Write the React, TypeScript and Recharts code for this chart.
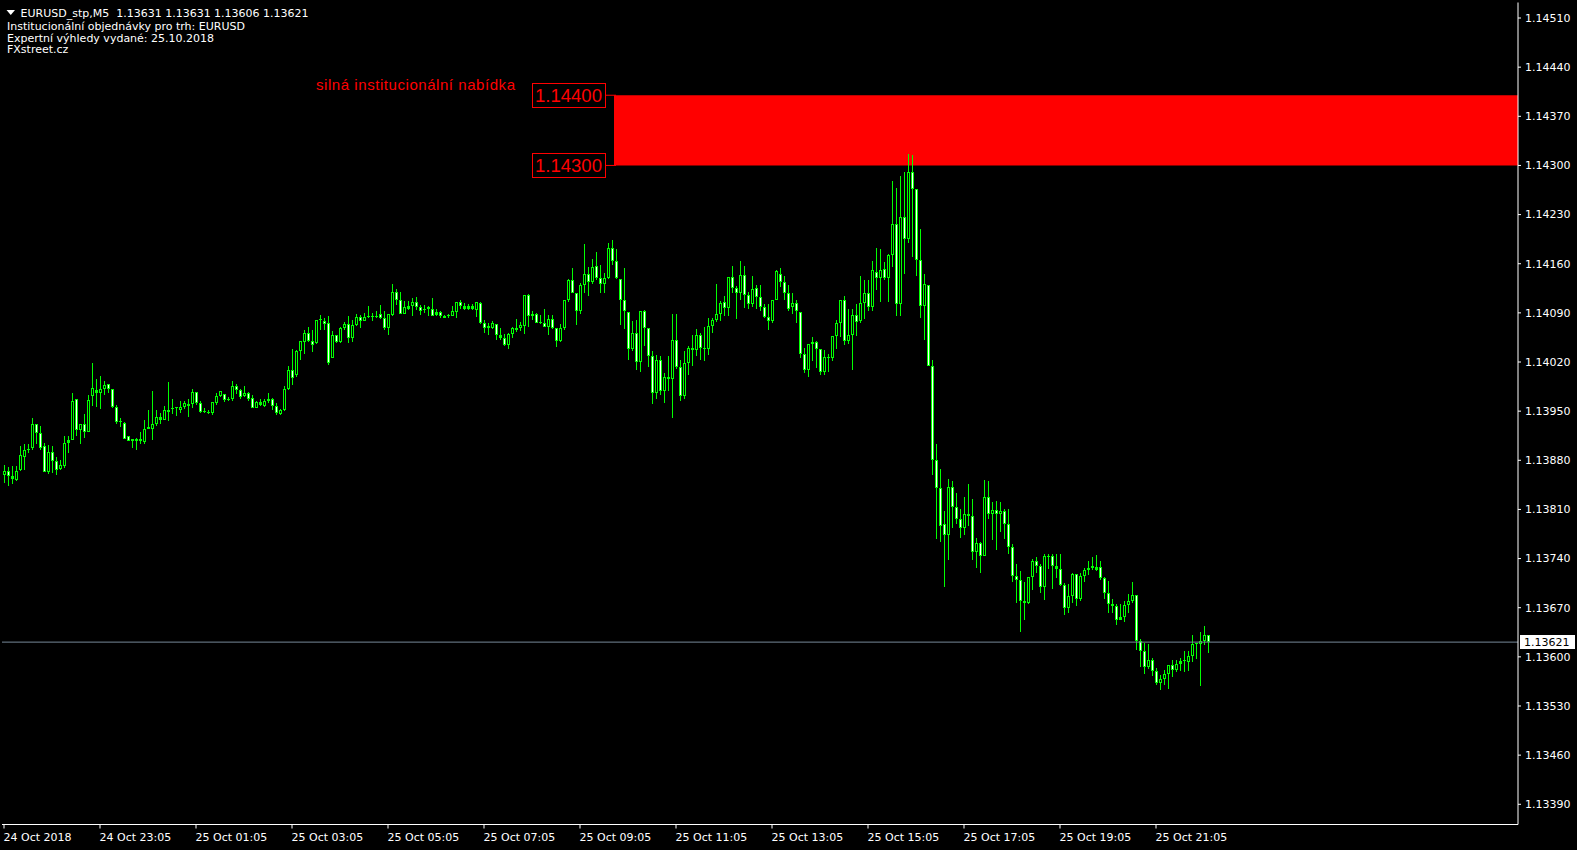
import React from 'react';
import { ComposedChart, Bar, XAxis, YAxis, ReferenceArea, ReferenceLine } from 'recharts';

// EURUSD M5 candles, 24 Oct 2018 21:05 onwards (one entry per 5-minute bar)
const OPEN = [
  1.13859,1.13865,1.13858,1.13852,1.13866,1.13884,1.13895,1.13897,1.13932,1.13919,
  1.13900,1.13864,1.13892,1.13879,1.13868,1.13872,1.13905,1.13909,1.13968,1.13923,
  1.13932,1.13920,1.13971,1.13980,1.13976,1.13981,1.13988,1.13981,1.13956,1.13934,
  1.13933,1.13914,1.13908,1.13911,1.13908,1.13906,1.13925,1.13924,1.13932,1.13942,
  1.13938,1.13952,1.13953,1.13954,1.13951,1.13956,1.13960,1.13960,1.13977,1.13962,
  1.13949,1.13949,1.13948,1.13961,1.13971,1.13974,1.13966,1.13967,1.13986,1.13980,
  1.13971,1.13976,1.13969,1.13955,1.13963,1.13958,1.13964,1.13967,1.13957,1.13946,
  1.13952,1.13981,1.14009,1.14001,1.14035,1.14048,1.14062,1.14050,1.14047,1.14080,
  1.14079,1.14076,1.14025,1.14058,1.14049,1.14069,1.14074,1.14054,1.14073,1.14084,
  1.14079,1.14084,1.14084,1.14086,1.14088,1.14082,1.14068,1.14087,1.14120,1.14108,
  1.14089,1.14096,1.14100,1.14105,1.14099,1.14094,1.14096,1.14096,1.14087,1.14091,
  1.14086,1.14085,1.14086,1.14091,1.14106,1.14100,1.14096,1.14100,1.14094,1.14104,
  1.14076,1.14069,1.14069,1.14074,1.14058,1.14054,1.14044,1.14060,1.14068,1.14068,
  1.14072,1.14115,1.14086,1.14088,1.14076,1.14076,1.14070,1.14081,1.14069,1.14050,
  1.14068,1.14108,1.14137,1.14119,1.14093,1.14130,1.14146,1.14134,1.14157,1.14140,
  1.14131,1.14140,1.14183,1.14164,1.14138,1.14109,1.14091,1.14038,1.14061,1.14020,
  1.14092,1.14069,1.14029,1.13976,1.14023,1.13978,1.13998,1.13996,1.14052,1.14013,
  1.13972,1.14018,1.14040,1.14037,1.14059,1.14040,1.14039,1.14072,1.14080,1.14089,
  1.14105,1.14097,1.14141,1.14126,1.14119,1.14144,1.14115,1.14103,1.14125,1.14112,
  1.14098,1.14084,1.14078,1.14109,1.14146,1.14134,1.14119,1.14098,1.14104,1.14091,
  1.14032,1.14008,1.14045,1.14049,1.14039,1.14006,1.14027,1.14025,1.14057,1.14075,
  1.14109,1.14050,1.14059,1.14087,1.14079,1.14104,1.14119,1.14099,1.14148,1.14140,
  1.14152,1.14139,1.14173,1.14216,1.14103,1.14226,1.14195,1.14291,1.14266,1.14166,
  1.14100,1.14129,1.14015,1.13880,1.13840,1.13789,1.13773,1.13842,1.13814,1.13796,
  1.13783,1.13803,1.13800,1.13750,1.13762,1.13743,1.13827,1.13803,1.13809,1.13803,
  1.13808,1.13789,1.13756,1.13715,1.13710,1.13679,1.13677,1.13714,1.13737,1.13730,
  1.13700,1.13744,1.13744,1.13729,1.13725,1.13702,1.13669,1.13687,1.13718,1.13683,
  1.13715,1.13724,1.13727,1.13728,1.13728,1.13713,1.13691,1.13676,1.13672,1.13653,
  1.13657,1.13674,1.13679,1.13688,1.13622,1.13608,1.13585,1.13596,1.13580,1.13563,
  1.13568,1.13575,1.13588,1.13581,1.13590,1.13594,1.13592,1.13601,1.13618,1.13618,
  1.13623,1.13631,
];

const HIGH = [
  1.13873,1.13870,1.13872,1.13872,1.13900,1.13903,1.13903,1.13940,1.13932,1.13929,
  1.13904,1.13902,1.13900,1.13885,1.13880,1.13915,1.13914,1.13976,1.13968,1.13932,
  1.13946,1.13973,1.14019,1.13996,1.14000,1.13993,1.13989,1.13982,1.13959,1.13940,
  1.13935,1.13915,1.13911,1.13912,1.13921,1.13937,1.13952,1.13978,1.13952,1.13948,
  1.13958,1.13991,1.13968,1.13956,1.13965,1.13965,1.13968,1.13982,1.13977,1.13964,
  1.13955,1.13952,1.13963,1.13976,1.13979,1.13975,1.13970,1.13993,1.13988,1.13982,
  1.13986,1.13977,1.13973,1.13965,1.13967,1.13967,1.13976,1.13969,1.13961,1.13953,
  1.13986,1.14014,1.14038,1.14037,1.14050,1.14065,1.14070,1.14066,1.14080,1.14087,
  1.14083,1.14085,1.14064,1.14059,1.14070,1.14077,1.14085,1.14080,1.14089,1.14087,
  1.14090,1.14100,1.14090,1.14092,1.14101,1.14092,1.14088,1.14131,1.14124,1.14120,
  1.14107,1.14107,1.14111,1.14112,1.14101,1.14101,1.14100,1.14111,1.14096,1.14093,
  1.14087,1.14089,1.14100,1.14106,1.14109,1.14104,1.14103,1.14103,1.14105,1.14105,
  1.14080,1.14075,1.14079,1.14074,1.14068,1.14060,1.14062,1.14070,1.14081,1.14077,
  1.14116,1.14117,1.14093,1.14090,1.14087,1.14096,1.14087,1.14087,1.14069,1.14074,
  1.14108,1.14138,1.14154,1.14119,1.14132,1.14188,1.14156,1.14167,1.14176,1.14158,
  1.14147,1.14190,1.14194,1.14181,1.14138,1.14154,1.14091,1.14078,1.14080,1.14093,
  1.14094,1.14069,1.14036,1.14030,1.14029,1.14004,1.14029,1.14089,1.14088,1.14023,
  1.14036,1.14043,1.14059,1.14067,1.14061,1.14070,1.14082,1.14082,1.14131,1.14107,
  1.14114,1.14141,1.14157,1.14128,1.14164,1.14157,1.14120,1.14143,1.14130,1.14130,
  1.14103,1.14103,1.14109,1.14151,1.14154,1.14143,1.14130,1.14119,1.14108,1.14091,
  1.14040,1.14045,1.14056,1.14050,1.14039,1.14037,1.14032,1.14057,1.14080,1.14109,
  1.14114,1.14095,1.14095,1.14103,1.14142,1.14137,1.14137,1.14164,1.14183,1.14181,
  1.14162,1.14174,1.14278,1.14268,1.14285,1.14291,1.14317,1.14315,1.14266,1.14210,
  1.14145,1.14129,1.14023,1.13903,1.13868,1.13808,1.13854,1.13850,1.13834,1.13811,
  1.13827,1.13846,1.13825,1.13769,1.13764,1.13852,1.13850,1.13820,1.13822,1.13820,
  1.13811,1.13811,1.13761,1.13732,1.13722,1.13706,1.13714,1.13740,1.13742,1.13732,
  1.13747,1.13747,1.13747,1.13747,1.13747,1.13705,1.13704,1.13720,1.13718,1.13719,
  1.13726,1.13737,1.13742,1.13745,1.13737,1.13714,1.13708,1.13683,1.13676,1.13676,
  1.13680,1.13689,1.13706,1.13688,1.13625,1.13620,1.13619,1.13598,1.13584,1.13574,
  1.13581,1.13589,1.13596,1.13595,1.13599,1.13608,1.13608,1.13631,1.13620,1.13635,
  1.13644,1.13631,
];

const LOW = [
  1.13847,1.13844,1.13846,1.13851,1.13865,1.13866,1.13891,1.13894,1.13903,1.13894,
  1.13864,1.13860,1.13862,1.13859,1.13866,1.13869,1.13891,1.13909,1.13914,1.13903,
  1.13912,1.13920,1.13958,1.13956,1.13953,1.13973,1.13976,1.13954,1.13932,1.13928,
  1.13910,1.13907,1.13898,1.13895,1.13903,1.13903,1.13924,1.13909,1.13929,1.13931,
  1.13937,1.13936,1.13946,1.13943,1.13947,1.13953,1.13942,1.13954,1.13959,1.13948,
  1.13947,1.13946,1.13944,1.13959,1.13970,1.13963,1.13964,1.13964,1.13974,1.13967,
  1.13970,1.13964,1.13955,1.13955,1.13957,1.13956,1.13961,1.13952,1.13944,1.13944,
  1.13950,1.13980,1.13987,1.13999,1.14023,1.14031,1.14049,1.14034,1.14045,1.14066,
  1.14066,1.14016,1.14025,1.14047,1.14047,1.14066,1.14047,1.14049,1.14072,1.14069,
  1.14079,1.14082,1.14079,1.14082,1.14081,1.14066,1.14058,1.14085,1.14101,1.14088,
  1.14088,1.14094,1.14085,1.14094,1.14087,1.14090,1.14086,1.14085,1.14086,1.14083,
  1.14082,1.14082,1.14085,1.14082,1.14096,1.14094,1.14094,1.14094,1.14084,1.14074,
  1.14061,1.14058,1.14067,1.14052,1.14051,1.14043,1.14038,1.14054,1.14063,1.14064,
  1.14060,1.14070,1.14080,1.14075,1.14074,1.14070,1.14058,1.14067,1.14042,1.14048,
  1.14066,1.14106,1.14119,1.14073,1.14089,1.14118,1.14114,1.14131,1.14137,1.14118,
  1.14118,1.14138,1.14158,1.14138,1.14073,1.14067,1.14023,1.14036,1.14009,1.14006,
  1.14043,1.14013,1.13960,1.13968,1.13973,1.13962,1.13978,1.13940,1.14010,1.13964,
  1.13968,1.14002,1.14014,1.14029,1.14023,1.14022,1.14030,1.14062,1.14077,1.14079,
  1.14086,1.14085,1.14118,1.14081,1.14109,1.14097,1.14096,1.14098,1.14096,1.14093,
  1.14082,1.14066,1.14075,1.14108,1.14127,1.14108,1.14092,1.14089,1.14076,1.14025,
  1.14004,1.13999,1.14022,1.14011,1.14001,1.14001,1.14006,1.14022,1.14039,1.14056,
  1.14044,1.14046,1.14008,1.14057,1.14076,1.14081,1.14092,1.14093,1.14123,1.14106,
  1.14137,1.14106,1.14156,1.14086,1.14086,1.14146,1.14190,1.14170,1.14142,1.14083,
  1.14051,1.14015,1.13859,1.13768,1.13764,1.13700,1.13738,1.13783,1.13789,1.13770,
  1.13773,1.13787,1.13738,1.13726,1.13719,1.13743,1.13796,1.13766,1.13752,1.13778,
  1.13768,1.13747,1.13707,1.13677,1.13636,1.13652,1.13676,1.13695,1.13719,1.13691,
  1.13681,1.13725,1.13697,1.13712,1.13701,1.13660,1.13662,1.13677,1.13672,1.13679,
  1.13706,1.13717,1.13724,1.13723,1.13710,1.13682,1.13663,1.13662,1.13645,1.13652,
  1.13649,1.13663,1.13677,1.13610,1.13586,1.13576,1.13583,1.13573,1.13560,1.13553,
  1.13560,1.13554,1.13571,1.13578,1.13580,1.13579,1.13580,1.13592,1.13597,1.13558,
  1.13617,1.13606,
];

const CLOSE = [
  1.13865,1.13857,1.13854,1.13865,1.13888,1.13895,1.13895,1.13932,1.13919,1.13898,
  1.13864,1.13892,1.13879,1.13866,1.13873,1.13905,1.13909,1.13965,1.13923,1.13932,
  1.13921,1.13966,1.13983,1.13976,1.13982,1.13987,1.13981,1.13956,1.13934,1.13934,
  1.13911,1.13908,1.13911,1.13908,1.13911,1.13925,1.13928,1.13932,1.13942,1.13938,
  1.13952,1.13949,1.13954,1.13954,1.13956,1.13962,1.13958,1.13977,1.13962,1.13949,
  1.13950,1.13948,1.13963,1.13972,1.13978,1.13966,1.13967,1.13986,1.13980,1.13970,
  1.13976,1.13967,1.13955,1.13963,1.13959,1.13964,1.13967,1.13957,1.13947,1.13952,
  1.13982,1.14009,1.13997,1.14035,1.14050,1.14062,1.14050,1.14044,1.14080,1.14080,
  1.14074,1.14018,1.14058,1.14049,1.14069,1.14074,1.14054,1.14073,1.14084,1.14079,
  1.14084,1.14084,1.14086,1.14084,1.14082,1.14068,1.14088,1.14120,1.14108,1.14089,
  1.14098,1.14100,1.14105,1.14099,1.14093,1.14096,1.14098,1.14086,1.14091,1.14086,
  1.14082,1.14087,1.14092,1.14105,1.14100,1.14096,1.14100,1.14096,1.14105,1.14075,
  1.14069,1.14071,1.14075,1.14058,1.14054,1.14044,1.14060,1.14068,1.14066,1.14073,
  1.14116,1.14086,1.14088,1.14076,1.14076,1.14070,1.14081,1.14069,1.14050,1.14068,
  1.14108,1.14137,1.14119,1.14093,1.14130,1.14145,1.14134,1.14156,1.14140,1.14131,
  1.14140,1.14183,1.14164,1.14139,1.14109,1.14092,1.14038,1.14061,1.14020,1.14092,
  1.14069,1.14029,1.13976,1.14023,1.13978,1.13998,1.13996,1.14052,1.14013,1.13972,
  1.14018,1.14040,1.14037,1.14059,1.14040,1.14039,1.14072,1.14080,1.14089,1.14104,
  1.14097,1.14141,1.14126,1.14119,1.14144,1.14115,1.14103,1.14124,1.14112,1.14098,
  1.14084,1.14078,1.14109,1.14150,1.14134,1.14119,1.14096,1.14104,1.14092,1.14032,
  1.14008,1.14045,1.14049,1.14039,1.14006,1.14027,1.14025,1.14057,1.14075,1.14109,
  1.14050,1.14059,1.14087,1.14077,1.14104,1.14119,1.14099,1.14151,1.14140,1.14151,
  1.14139,1.14172,1.14216,1.14102,1.14226,1.14195,1.14291,1.14266,1.14166,1.14100,
  1.14131,1.14015,1.13880,1.13840,1.13787,1.13773,1.13842,1.13814,1.13796,1.13783,
  1.13803,1.13800,1.13750,1.13762,1.13743,1.13827,1.13803,1.13809,1.13803,1.13808,
  1.13789,1.13756,1.13715,1.13710,1.13679,1.13677,1.13714,1.13737,1.13730,1.13700,
  1.13744,1.13742,1.13729,1.13725,1.13702,1.13669,1.13687,1.13718,1.13683,1.13715,
  1.13724,1.13727,1.13729,1.13724,1.13713,1.13691,1.13676,1.13672,1.13653,1.13657,
  1.13674,1.13679,1.13688,1.13622,1.13608,1.13585,1.13596,1.13580,1.13563,1.13568,
  1.13576,1.13588,1.13581,1.13590,1.13594,1.13594,1.13601,1.13618,1.13618,1.13623,
  1.13631,1.13621,
];

const TIME_LABELS = [
  '24 Oct 2018', '24 Oct 23:05', '25 Oct 01:05', '25 Oct 03:05', '25 Oct 05:05',
  '25 Oct 07:05', '25 Oct 09:05', '25 Oct 11:05', '25 Oct 13:05', '25 Oct 15:05',
  '25 Oct 17:05', '25 Oct 19:05', '25 Oct 21:05',
];
const BARS_PER_LABEL = 24; // 2 hours of M5 bars
const SLOTS = 379; // bar slots visible across the chart window

const PRICE_TICKS = [
  1.1339, 1.1346, 1.1353, 1.136, 1.1367, 1.1374, 1.1381, 1.1388, 1.1395,
  1.1402, 1.1409, 1.1416, 1.1423, 1.143, 1.1437, 1.1444, 1.1451,
];
const Y_MIN = 1.133612;
const Y_MAX = 1.145321;

const ZONE_LOW = 1.143;
const ZONE_HIGH = 1.144;
const ZONE_START_BAR = 153;
const ZONE_TAG_BAR = 132;
const ZONE_CAPTION = 'silná institucionální nabídka';

const BID = CLOSE[CLOSE.length - 1];

const HEADER_LINES = [
  'Institucionální objednávky pro trh: EURUSD',
  'Expertní výhledy vydané: 25.10.2018',
  'FXstreet.cz',
];

const GREEN = '#00ff00';
const RED = '#ff0000';
const WHITE = '#ffffff';
const FONT = "'DejaVu Sans', Verdana, sans-serif";
const ARIAL = "'Liberation Sans', Arial, sans-serif";

const data = Array.from({ length: SLOTS }, (_, i) => {
  if (i >= OPEN.length) return { i };
  const o = OPEN[i];
  const c = CLOSE[i];
  return {
    i,
    wick: [LOW[i], HIGH[i]],
    body: [Math.min(o, c), Math.max(o, c)],
    bear: c < o,
  };
});

const xTicks = TIME_LABELS.map((_, k) => k * BARS_PER_LABEL);

const WickShape = (p: any) => {
  const { x, y, width, height, payload } = p;
  if (!payload || !payload.wick || !isFinite(y) || !isFinite(height)) return <g />;
  return <rect x={x} y={y} width={width} height={Math.max(1, height)} fill={GREEN} shapeRendering="crispEdges" />;
};

const BodyShape = (p: any) => {
  const { x, y, width, height, payload } = p;
  if (!payload || !payload.body || !isFinite(y) || !isFinite(height)) return <g />;
  const h = Math.max(1, height);
  return (
    <g shapeRendering="crispEdges">
      <rect x={x} y={y} width={width} height={h} fill={GREEN} />
      {h >= 3 && (
        <rect x={x + 1} y={y + 1} width={width - 2} height={h - 2} fill={payload.bear ? WHITE : '#000'} />
      )}
    </g>
  );
};

const TimeTick = (p: any) => {
  const { x, y, payload } = p;
  const label = TIME_LABELS[Math.round(payload.value / BARS_PER_LABEL)];
  return (
    <text x={x - 0.5} y={y} dy={10.5} fill={WHITE} fontSize={11} fontFamily={FONT} textAnchor="start">
      {label}
    </text>
  );
};

const ZoneTag = ({ viewBox, price, caption }: any) => {
  if (!viewBox) return null;
  const { x, y } = viewBox;
  return (
    <g>
      <rect x={x} y={y - 12} width={73} height={24} fill="#000" stroke={RED} shapeRendering="crispEdges" />
      <text x={x + 36.5} y={y + 6.6} textAnchor="middle" fill={RED} fontSize={18.5} fontFamily={ARIAL}>
        {price.toFixed(5)}
      </text>
      {caption && (
        <text
          x={x - 17}
          y={y - 4.8}
          textAnchor="end"
          fill={RED}
          fontSize={15}
          fontFamily={ARIAL}
          textLength={199}
          lengthAdjust="spacing"
        >
          {caption}
        </text>
      )}
    </g>
  );
};

const BidTag = ({ viewBox }: any) => {
  if (!viewBox) return null;
  const { x, y, width } = viewBox;
  return (
    <g>
      <rect x={x + width + 2} y={y - 7} width={55} height={14} fill={WHITE} shapeRendering="crispEdges" />
      <text x={x + width + 6} y={y + 4} fill="#000" fontSize={11} fontFamily={FONT}>
        {BID.toFixed(5)}
      </text>
    </g>
  );
};

export default function App() {
  const last = OPEN.length - 1;
  const title = `EURUSD_stp,M5  ${OPEN[last].toFixed(5)} ${HIGH[last].toFixed(5)} ${LOW[last].toFixed(5)} ${CLOSE[last].toFixed(5)}`;
  return (
    <div style={{ position: 'absolute', left: 0, top: 0, width: 1577, height: 850, background: '#000', overflow: 'hidden' }}>
      <ComposedChart width={1577} height={850} data={data} margin={{ top: 2.5, right: 0, bottom: 0, left: 2 }}>
        <XAxis
          xAxisId={0}
          dataKey="i"
          type="category"
          height={25.5}
          ticks={xTicks}
          interval={0}
          tick={(p: any) => <TimeTick {...p} />}
          tickSize={4}
          tickLine={{ stroke: WHITE }}
          axisLine={{ stroke: WHITE, shapeRendering: 'crispEdges' }}
        />
        <XAxis
          xAxisId="top"
          dataKey="i"
          type="category"
          orientation="top"
          height={0}
          tick={false}
          tickLine={false}
          axisLine={{ stroke: WHITE }}
        />
        <YAxis
          yAxisId={0}
          orientation="right"
          type="number"
          domain={[Y_MIN, Y_MAX]}
          allowDataOverflow
          ticks={PRICE_TICKS}
          interval={0}
          width={59}
          tickSize={3}
          tickMargin={4}
          tickFormatter={(v: number) => v.toFixed(5)}
          tick={{ fill: WHITE, fontSize: 11, fontFamily: FONT }}
          tickLine={{ stroke: WHITE }}
          axisLine={{ stroke: WHITE }}
        />
        <YAxis
          yAxisId="left"
          orientation="left"
          type="number"
          domain={[Y_MIN, Y_MAX]}
          allowDataOverflow
          width={0}
          tick={false}
          tickLine={false}
          axisLine={{ stroke: WHITE, shapeRendering: 'crispEdges' }}
        />
        <ReferenceArea
          x1={ZONE_START_BAR}
          y1={ZONE_LOW}
          y2={ZONE_HIGH}
          fill={RED}
          fillOpacity={1}
          stroke="none"
        />
        <Bar
          dataKey="wick"
          xAxisId={0}
          barSize={1}
          isAnimationActive={false}
          shape={(p: any) => <WickShape {...p} />}
        />
        <Bar
          dataKey="body"
          xAxisId="top"
          barSize={3}
          minPointSize={1}
          isAnimationActive={false}
          shape={(p: any) => <BodyShape {...p} />}
        />
        <ReferenceLine
          segment={[{ x: ZONE_TAG_BAR, y: ZONE_HIGH }, { x: ZONE_START_BAR, y: ZONE_HIGH }]}
          stroke={RED}
          label={(p: any) => <ZoneTag viewBox={p.viewBox} price={ZONE_HIGH} caption={ZONE_CAPTION} />}
        />
        <ReferenceLine
          segment={[{ x: ZONE_TAG_BAR, y: ZONE_LOW }, { x: ZONE_START_BAR, y: ZONE_LOW }]}
          stroke={RED}
          label={(p: any) => <ZoneTag viewBox={p.viewBox} price={ZONE_LOW} />}
        />
        <ReferenceLine y={BID} stroke="#778899" label={(p: any) => <BidTag viewBox={p.viewBox} />} />
      </ComposedChart>
      <svg
        width={400}
        height={60}
        style={{ position: 'absolute', left: 0, top: 0, pointerEvents: 'none' }}
      >
        <polygon points="6.5,10 15,10 10.75,15" fill={WHITE} />
        <text x={20.5} y={16.7} fill={WHITE} fontSize={11} fontFamily={FONT} style={{ whiteSpace: 'pre' }}>
          {title}
        </text>
        {HEADER_LINES.map((t, k) => (
          <text key={k} x={7} y={29.6 + k * 11.9} fill={WHITE} fontSize={11} fontFamily={FONT}>
            {t}
          </text>
        ))}
      </svg>
    </div>
  );
}
